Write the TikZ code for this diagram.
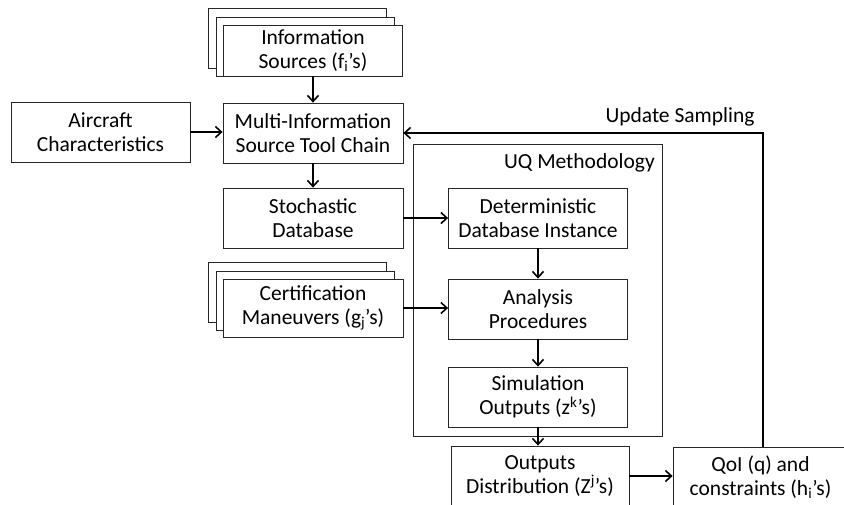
\documentclass[tikz,border=0pt]{standalone}
\usepackage{fontspec}
\setmainfont{Carlito}
\usetikzlibrary{arrows.meta}
\begin{document}
\begin{tikzpicture}[x=1pt,y=-1pt,
  box/.style={draw=black!85,line width=0.8pt,fill=white,minimum width=180pt,minimum height=60pt,align=center,inner sep=0pt,font=\fontsize{21.5}{24}\selectfont},
  flow/.style={line width=2pt,-{Straight Barb[length=6pt,width=11pt,line width=1.6pt]}},
  lbl/.style={font=\fontsize{21.5}{24}\selectfont,inner sep=0pt}]
\useasboundingbox (0,0) rectangle (844,504);
\clip (0,0) rectangle (844,504);
% information sources stack
\draw[draw=black!85,line width=0.8pt,fill=white] (208,8) rectangle (386,68);
\draw[draw=black!85,line width=0.8pt,fill=white] (216,17) rectangle (394,76);
\node[box,minimum width=179pt,minimum height=51pt] (info) at (313,50.5) {Information\\Sources (f\textsubscript{i}’s)};
\node[box] (multi) at (313,133) {Multi-Information\\Source Tool Chain};
\node[box,minimum width=179pt] (air) at (100.5,132) {Aircraft\\Characteristics};
\node[box] (stoch) at (313,218) {Stochastic\\Database};
% UQ methodology frame
\node[draw=black!85,line width=0.8pt,minimum width=249pt,minimum height=292pt,inner sep=0pt] (uq) at (537.5,290) {};
\node[lbl,anchor=east] (uqlbl) at (655,163) {UQ Methodology};
\node[box,minimum width=179pt] (det) at (538,218) {Deterministic\\Database Instance};
% certification stack
\draw[draw=black!85,line width=0.8pt,fill=white] (208,262) rectangle (386,322);
\draw[draw=black!85,line width=0.8pt,fill=white] (216,271) rectangle (394,330);
\node[box,minimum height=58pt] (cert) at (313,308) {Certification\\Maneuvers (g\textsubscript{j}’s)};
\node[box,minimum width=179pt] (anal) at (538,309) {Analysis\\Procedures};
\node[box,minimum width=179pt] (sim) at (538,397) {Simulation\\Outputs (z\textsuperscript{k}’s)};
\node[box,minimum width=178pt] (out) at (540,476) {Outputs\\Distribution (Z\textsuperscript{j}’s)};
\node[box,minimum width=175pt] (qoi) at (760.5,477) {QoI (q) and\\constraints (h\textsubscript{i}’s)};
\node[lbl] (upd) at (680,117) {Update Sampling};
% connectors
\draw[flow] (info.south) -- (multi.north);
\draw[flow] (air.east) -- (air.east -| multi.west);
\draw[flow] (multi.south) -- (stoch.north);
\draw[flow] (stoch.east) -- (det.west);
\draw[flow] (det.south) -- (anal.north);
\draw[flow] (cert.east) -- (cert.east -| anal.west);
\draw[flow] (anal.south) -- (sim.north);
\draw[flow] (sim.south) -- (sim.south |- out.north);
\draw[flow] (out.east) -- (out.east -| qoi.west);
\coordinate (corner) at (763,133);
\draw[flow] (qoi.north -| corner) -- (corner) -- (multi.east);
\end{tikzpicture}
\end{document}
